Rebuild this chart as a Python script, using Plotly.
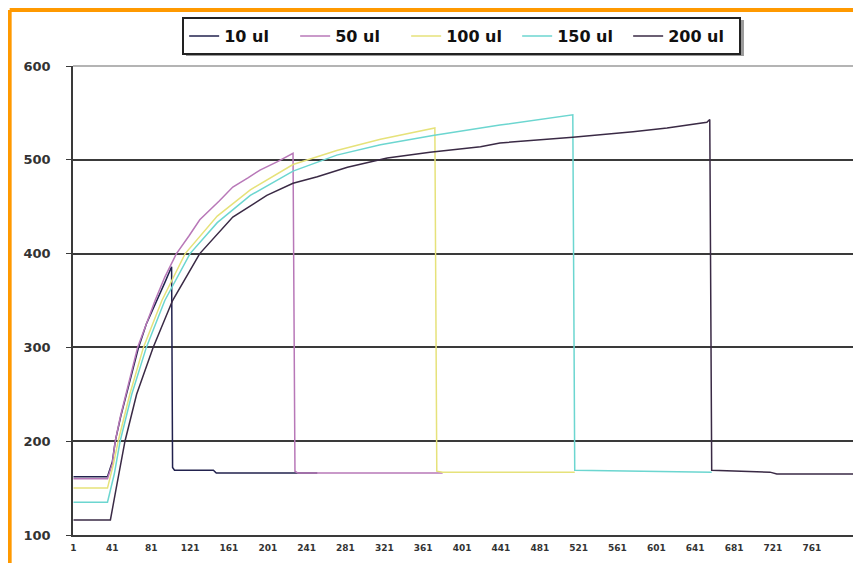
import plotly.graph_objects as go

# ---- data (x = sample index, y = reading) ----
series_names = ["10 ul", "50 ul", "100 ul", "150 ul", "200 ul"]

s10_x = [1, 36, 41, 44, 50, 57, 68, 76, 87, 95, 102, 103, 105, 145, 148, 252]
s10_y = [162, 162, 178, 200, 228, 255, 300, 325, 350, 369, 386, 172, 169, 169, 166, 166]

s50_x = [1, 36, 41, 44, 49, 55, 61, 67, 76, 85, 95, 107, 120, 131, 151, 165, 181, 193, 211, 227, 229, 232, 300, 381]
s50_y = [160, 160, 176, 200, 225, 250, 275, 300, 325, 350, 375, 400, 419, 436, 456, 471, 481, 489, 498, 507, 168, 166, 166, 166]

s100_x = [1, 36, 42, 47, 59, 73, 92, 116, 149, 183, 227, 272, 317, 337, 373, 375, 381, 517]
s100_y = [150, 150, 175, 200, 250, 300, 350, 400, 440, 468, 495, 510, 522, 526, 534, 168, 167, 167]

s150_x = [1, 36, 43, 49, 61, 76, 95, 121, 149, 183, 227, 272, 317, 371, 440, 515, 517, 658]
s150_y = [135, 135, 165, 200, 250, 300, 350, 400, 433, 462, 488, 505, 516, 526, 537, 548, 169, 167]

s200_x = [1, 39, 45, 54, 66, 83, 103, 131, 165, 200, 227, 252, 283, 324, 368, 420, 440, 515, 577, 612, 653, 656, 658, 718, 725, 805]
s200_y = [116, 116, 150, 200, 250, 300, 350, 400, 439, 462, 475, 482, 492, 502, 508, 514, 518, 524, 530, 534, 540, 543, 169, 167, 165, 165]

x_tick_vals = list(range(1, 762, 40))
x_tick_text = [str(v) for v in x_tick_vals]
y_tick_vals = [100, 200, 300, 400, 500, 600]

colors = ["#22224e", "#b878b8", "#e6e27a", "#6cd6d0", "#3a2a45"]

xs = [s10_x, s50_x, s100_x, s150_x, s200_x]
ys = [s10_y, s50_y, s100_y, s150_y, s200_y]

fig = go.Figure()
for name, x, y, c in zip(series_names, xs, ys, colors):
    fig.add_trace(go.Scatter(x=x, y=y, mode="lines", name=name,
                             line=dict(color=c, width=1.5)))

tick_font = "DejaVu Sans, Arial, sans-serif"

fig.update_layout(
    width=853, height=555,
    margin=dict(l=65, r=6, t=58, b=28),
    paper_bgcolor="white", plot_bgcolor="white",
    font=dict(family="Arial, Liberation Sans, sans-serif", color="#222"),
    showlegend=True,
    legend=dict(orientation="h", x=0.497, xanchor="center", y=1.1045, yanchor="top",
                bordercolor="#222", borderwidth=2, bgcolor="white",
                font=dict(family=tick_font, size=16, color="#111", weight="bold"),
                itemwidth=30, entrywidth=66, entrywidthmode="pixels", tracegroupgap=0),
    xaxis=dict(range=[0.5, 805.5], tickmode="array", tickvals=x_tick_vals, ticktext=x_tick_text,
               showgrid=False, zeroline=False, showline=True, linecolor="#3a3a3a", linewidth=2,
               tickfont=dict(family=tick_font, size=9, color="#333", weight="bold"), ticks="",
               ticklabelstandoff=3),
    yaxis=dict(range=[100, 600], tickmode="array", tickvals=y_tick_vals,
               showgrid=True, gridcolor="#3a3a3a", gridwidth=2, zeroline=False,
               showline=True, linecolor="#3a3a3a", linewidth=1.5,
               ticks="outside", ticklen=5, tickcolor="#3a3a3a",
               tickfont=dict(family=tick_font, size=13, color="#333", weight="bold"),
               ticklabelstandoff=13),
    shapes=[
        # legend drop shadow
        dict(type="rect", xref="paper", yref="paper", x0=0.1445, x1=0.858, y0=1.0213, y1=1.098,
             line=dict(width=0), fillcolor="#9a9a9a", layer="below"),
        # top and right plot-area border (gray)
        dict(type="line", xref="paper", yref="paper", x0=0, x1=1, y0=1, y1=1,
             line=dict(color="#b4b4b4", width=2), layer="above"),
        dict(type="line", xref="paper", yref="paper", x0=1, x1=1, y0=0, y1=1,
             line=dict(color="#a8a8a8", width=2), layer="above"),
        # orange outer frame (top and left)
        dict(type="line", xref="paper", yref="paper", x0=-0.081, x1=1.2, y0=1.1194, y1=1.1194,
             line=dict(color="#ff9900", width=4), layer="above"),
        dict(type="line", xref="paper", yref="paper", x0=-0.081, x1=-0.081, y0=-0.2, y1=1.1194,
             line=dict(color="#ff9900", width=4), layer="above"),
    ],
)

fig.write_html("out.html")
